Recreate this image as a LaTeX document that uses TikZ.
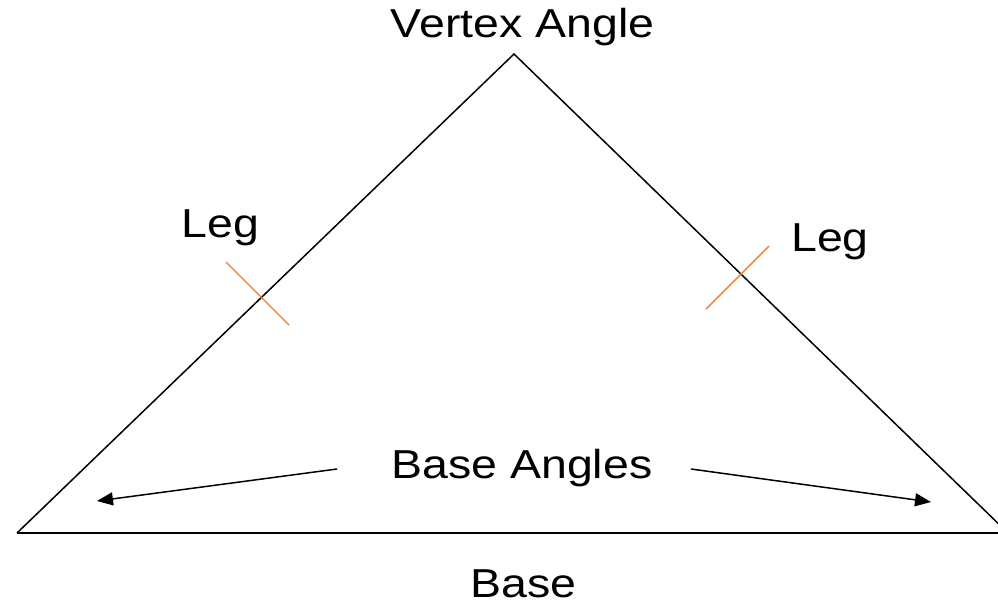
\documentclass[tikz,border=0pt]{standalone}
\usepackage{fontspec}
\setmainfont{Liberation Sans}
\usetikzlibrary{arrows.meta}
\definecolor{tickorange}{RGB}{237,125,49}
\newcommand{\stretchtxt}[1]{\scalebox{1.15}[1]{#1}}
\tikzset{
  lbl/.style={font=\fontsize{20.2}{24}\selectfont, anchor=base, inner sep=0pt},
  side/.style={line width=0.75pt, black},
  baseline/.style={line width=1pt, black},
  tickmark/.style={line width=0.7pt, tickorange},
  ptr/.style={line width=0.75pt, -{Triangle[length=8pt,width=6.5pt]}}
}
\begin{document}
\begin{tikzpicture}[x=0.5pt,y=-0.5pt]
\useasboundingbox (0,0) rectangle (998,612);
\clip (0,0) rectangle (998,612);
% triangle vertices
\coordinate (apex) at (514,54);
\coordinate (bl) at (17,533);
\coordinate (br) at (1008,533);
\draw[side] (bl) -- (apex) -- (br);
\draw[baseline] (bl) -- (br);
% tick marks
\coordinate (t1a) at (226,262);
\coordinate (t1b) at (289,325);
\coordinate (t2a) at (769,246);
\coordinate (t2b) at (706,309);
\draw[tickmark] (t1a) -- (t1b);
\draw[tickmark] (t2a) -- (t2b);
% labels
\node[lbl] (vertex) at (522.5,37) {\stretchtxt{Vertex Angle}};
\node[lbl] (legl) at (220.5,237) {\stretchtxt{Leg}};
\node[lbl] (legr) at (830,251) {\stretchtxt{Leg}};
\node[lbl] (baseangles) at (522,478) {\stretchtxt{Base Angles}};
\node[lbl] (base) at (523.5,597) {\stretchtxt{Base}};
% arrows
\coordinate (a1s) at (337,469);
\coordinate (a1e) at (97,501);
\coordinate (a2s) at (691,469);
\coordinate (a2e) at (931,502);
\draw[ptr] (a1s) -- (a1e);
\draw[ptr] (a2s) -- (a2e);
\end{tikzpicture}
\end{document}
